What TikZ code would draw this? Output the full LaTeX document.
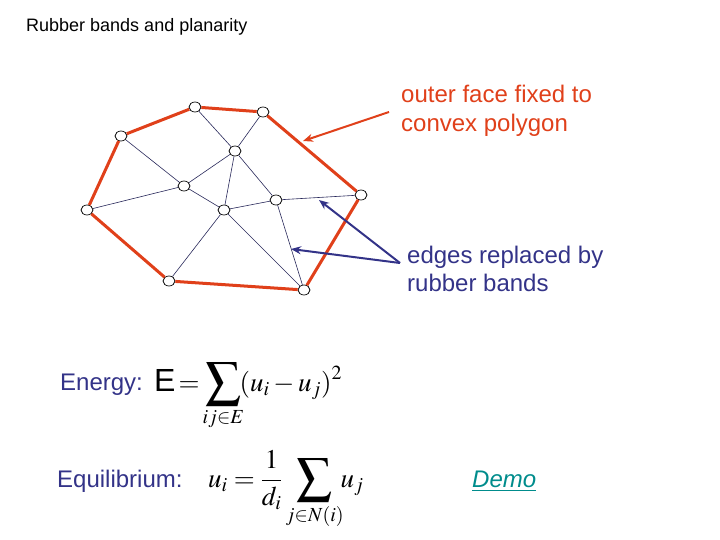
\documentclass[tikz,border=0pt]{standalone}
\usepackage{mathptmx}
\usepackage[no-math]{fontspec}
\setmainfont{Liberation Sans}
\usetikzlibrary{arrows.meta,shapes.geometric}
\definecolor{rubred}{RGB}{224,64,26}
\definecolor{navy}{RGB}{51,51,136}
\definecolor{edgeblue}{RGB}{40,40,90}
\definecolor{teal2}{RGB}{0,140,140}
\newcommand\mybigsum{\mathop{\vcenter{\hbox{\scalebox{1.3}{$\displaystyle\sum$}}}}\limits}
\tikzset{
  vtx/.style={ellipse,draw=black,fill=white,line width=0.7pt,minimum width=12pt,minimum height=10pt,inner sep=0pt},
  outer/.style={draw=rubred,line width=3pt},
  inner/.style={draw=edgeblue,line width=0.6pt},
  redarrow/.style={draw=rubred,line width=2pt,-{Stealth[length=10pt,width=8pt]}},
  bluearrow/.style={draw=navy,line width=2pt,-{Stealth[length=10pt,width=8pt]}},
  txt/.style={anchor=base west,inner sep=0pt,font=\fontsize{24}{28}\selectfont},
}
\begin{document}
\begin{tikzpicture}[x=1pt,y=-1pt]
\useasboundingbox (0,0) rectangle (720,540);
% vertices
\node[vtx] (A) at (195,107) {};
\node[vtx] (B) at (263,112) {};
\node[vtx] (C) at (121,136) {};
\node[vtx] (D) at (235,151) {};
\node[vtx] (E) at (184,186) {};
\node[vtx] (F) at (276,200) {};
\node[vtx] (G) at (361,195) {};
\node[vtx] (H) at (87,210) {};
\node[vtx] (I) at (224,210) {};
\node[vtx] (J) at (169,281) {};
\node[vtx] (K) at (304,290) {};
% edges
\foreach \a/\b in {A/D,B/D,D/E,D/I,D/F,C/E,E/H,E/I,I/F,F/G,F/K,I/J,I/K}
  \draw[inner] (\a) -- (\b);
\foreach \a/\b in {A/B,B/G,G/K,K/J,J/H,H/C,C/A}
  \draw[outer] (\a) -- (\b);
% title
\node[anchor=base west,inner sep=0pt,font=\fontsize{18}{21}\selectfont] (title) at (26,32) {Rubber bands and planarity};
% labels
\node[txt,text=rubred] (o1) at (401,103) {outer face fixed to};
\node[txt,text=rubred] (o2) at (401,132) {convex polygon};
\node[txt,text=navy] (e1) at (407,263) {edges replaced by};
\node[txt,text=navy] (e2) at (407,291) {rubber bands};
\coordinate (rs) at (389,112);
\coordinate (rt) at (303,141);
\coordinate (bs) at (400,263);
\coordinate (bt1) at (319,200);
\coordinate (bt2) at (291,249);
\draw[redarrow] (rs) -- (rt);
\draw[bluearrow] (bs) -- (bt1);
\draw[bluearrow] (bs) -- (bt2);
% formulas
\node[txt,text=navy] (en) at (60,390) {Energy:};
\node[txt,text=navy] (eq) at (57,487) {Equilibrium:};
\node[anchor=base west,inner sep=0pt,font=\fontsize{27}{32}\selectfont] (f1) at (154,391)
  {$\displaystyle \mbox{\fontsize{32}{36}\selectfont E} \mathrel{\mkern-2mu=\mkern-2mu} \mybigsum_{ij\in E}\mkern-3mu(u_i - u_j)^2$};
\node[anchor=base west,inner sep=0pt,font=\fontsize{27}{32}\selectfont] (f2) at (208,487)
  {$\displaystyle u_i = \frac{1}{d_i}\mybigsum_{j\in N(i)}\mkern-4mu u_j$};
\node[txt,text=teal2,font=\fontsize{24}{28}\selectfont\itshape] (demo) at (472,487) {\underline{Demo}};
\end{tikzpicture}
\end{document}
